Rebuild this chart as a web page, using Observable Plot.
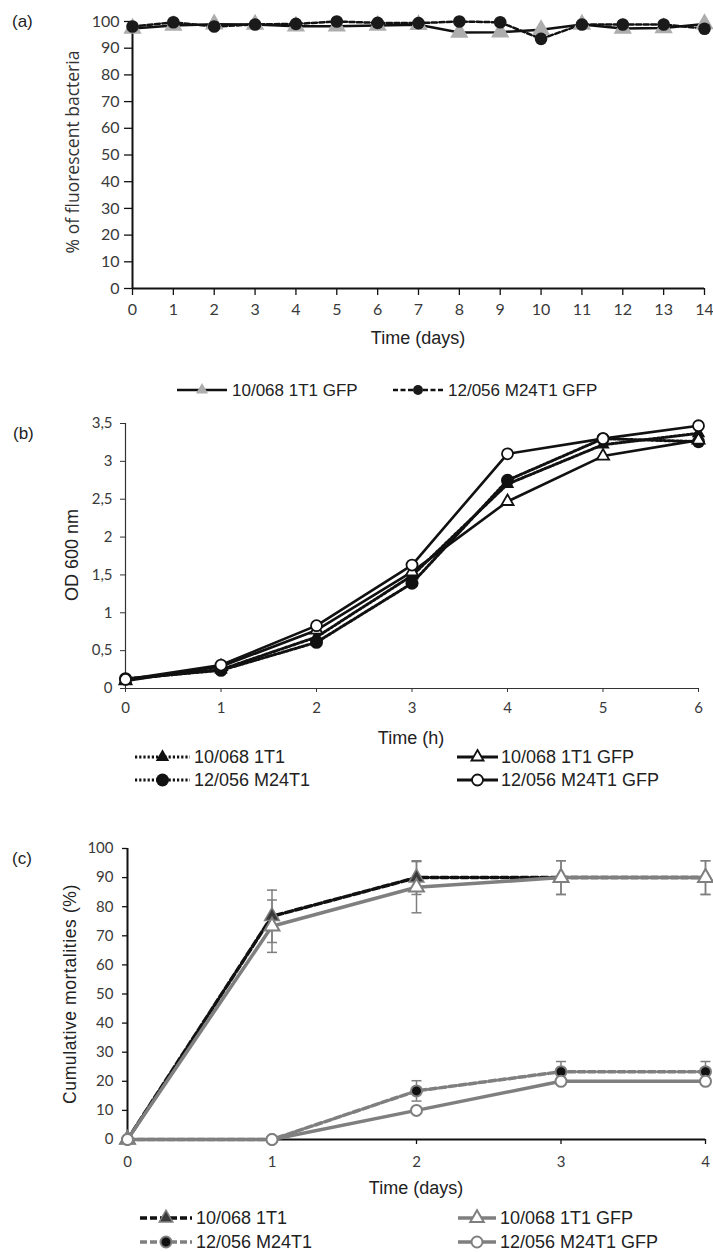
<!DOCTYPE html>
<html>
<head>
<meta charset="utf-8">
<script src="https://cdn.jsdelivr.net/npm/d3@7"></script>
<script src="https://cdn.jsdelivr.net/npm/@observablehq/plot@0.6"></script>
<style>
  body { margin: 0; background: #fff; }
  #root { position: relative; width: 713px; height: 1252px; overflow: hidden; background: #fff; }
  .plot { position: absolute; left: 0; }
  .plot svg { overflow: visible; display: block; }
  #overlay { position: absolute; left: 0; top: 0; pointer-events: none; }
</style>
</head>
<body>
<div id="root">
  <div class="plot" id="pa" style="top:0px"></div>
  <div class="plot" id="pb" style="top:400px"></div>
  <div class="plot" id="pc" style="top:820px"></div>
</div>
<script>
// ---------- Panel (a): % fluorescent bacteria over 14 days ----------
const daysA = [0, 1, 2, 3, 4, 5, 6, 7, 8, 9, 10, 11, 12, 13, 14];
const pctGfp1T1 = [97.4, 98.5, 99.0, 98.9, 98.2, 98.2, 98.5, 98.8, 95.9, 96.0, 96.9, 98.9, 97.4, 97.6, 99.1];
const pctGfpM24T1 = [98.1, 99.7, 98.1, 98.9, 99.1, 100, 99.5, 99.4, 100, 99.7, 93.5, 98.9, 98.9, 98.9, 97.3];
const ticksAY = [0, 10, 20, 30, 40, 50, 60, 70, 80, 90, 100];
const labelsA = ["10/068 1T1 GFP", "12/056 M24T1 GFP"];

// ---------- Panel (b): OD 600 nm over 6 h ----------
const hoursB = [0, 1, 2, 3, 4, 5, 6];
const od1T1 = [0.12, 0.25, 0.68, 1.49, 2.70, 3.22, 3.37];
const odM24T1 = [0.13, 0.24, 0.61, 1.39, 2.75, 3.30, 3.26];
const od1T1Gfp = [0.10, 0.29, 0.77, 1.54, 2.47, 3.07, 3.28];
const odM24T1Gfp = [0.12, 0.31, 0.83, 1.63, 3.10, 3.30, 3.47];
const ticksBY = [0, 0.5, 1, 1.5, 2, 2.5, 3, 3.5];
const labelsB = ["10/068 1T1", "12/056 M24T1", "10/068 1T1 GFP", "12/056 M24T1 GFP"];

// ---------- Panel (c): cumulative mortalities over 4 days ----------
const daysC = [0, 1, 2, 3, 4];
const mort1T1 = [0, 76.7, 90, 90, 90];
const sd1T1 = [0, 9.0, 5.8, 5.8, 5.8];
const mort1T1Gfp = [0, 73.3, 86.7, 90, 90];
const sd1T1Gfp = [0, 9.0, 8.8, 5.8, 5.8];
const mortM24T1 = [0, 0, 16.7, 23.3, 23.3];
const sdM24T1 = [0, 0, 3.5, 3.5, 3.5];
const mortM24T1Gfp = [0, 0, 10, 20, 20];
const sdM24T1Gfp = [0, 0, 0, 0, 0];
const ticksCY = [0, 10, 20, 30, 40, 50, 60, 70, 80, 90, 100];
const labelsC = ["10/068 1T1", "12/056 M24T1", "10/068 1T1 GFP", "12/056 M24T1 GFP"];

// ---------- helpers ----------
const rows = (xs, vs, sds) => xs.map((t, i) => ({t, v: vs[i], sd: sds ? sds[i] : 0}));
const commaFmt = d => String(d).replace(".", ",");
const capSymbol = {
  draw(ctx, size) {
    const w = Math.sqrt(size / Math.PI);
    ctx.moveTo(-w, 0); ctx.lineTo(w, 0);
  }
};
const GREY = "#7f7f7f";

// ---------- Plot (a) ----------
const a1 = rows(daysA, pctGfp1T1);
const a2 = rows(daysA, pctGfpM24T1);
const plotA = Plot.plot({
  width: 713, height: 350,
  marginTop: 21, marginBottom: 62, marginLeft: 132, marginRight: 9,
  x: {domain: [0, 14]},
  y: {domain: [0, 100]},
  style: {fontFamily: "Lato, 'Open Sans', sans-serif", fontSize: "16px", color: "#3a3a3a", background: "transparent", overflow: "visible"},
  marks: [
    Plot.axisY({ticks: ticksAY, tickSize: 8, tickPadding: 5, label: null, stroke: "#111", strokeWidth: 1.3}),
    Plot.axisX({ticks: daysA, tickSize: 7, tickPadding: 8, label: null, stroke: "#111", strokeWidth: 1.3, tickFormat: d => String(d)}),
    Plot.ruleX([0], {stroke: "#111", strokeWidth: 2}),
    Plot.ruleY([0], {stroke: "#111", strokeWidth: 2}),
    Plot.line(a1, {x: "t", y: "v", stroke: "#111", strokeWidth: 2.5}),
    Plot.line(a2, {x: "t", y: "v", stroke: "#111", strokeWidth: 2.5, strokeDasharray: "5,2.5"}),
    Plot.dot(a1, {x: "t", y: "v", symbol: "triangle", r: 6.8, fill: "#adadad"}),
    Plot.dot(a2, {x: "t", y: "v", symbol: "circle", r: 6.3, fill: "#1a1a1a"})
  ]
});
document.getElementById("pa").appendChild(plotA);

// ---------- Plot (b) ----------
const b1 = rows(hoursB, od1T1);
const b2 = rows(hoursB, odM24T1);
const b3 = rows(hoursB, od1T1Gfp);
const b4 = rows(hoursB, odM24T1Gfp);
const plotB = Plot.plot({
  width: 713, height: 360,
  marginTop: 23, marginBottom: 72, marginLeft: 125, marginRight: 15,
  x: {domain: [0, 6]},
  y: {domain: [0, 3.5]},
  style: {fontFamily: "Lato, 'Open Sans', sans-serif", fontSize: "15px", color: "#3a3a3a", background: "transparent", overflow: "visible"},
  marks: [
    Plot.axisY({ticks: ticksBY, tickSize: 5, tickPadding: 8, label: null, tickFormat: commaFmt, stroke: "#333", strokeWidth: 1}),
    Plot.axisX({ticks: hoursB, tickSize: 4, tickPadding: 10, label: null, tickFormat: d => String(d), stroke: "#333", strokeWidth: 1}),
    Plot.ruleX([0], {stroke: "#333", strokeWidth: 1.2}),
    Plot.ruleY([0], {stroke: "#333", strokeWidth: 1.2}),
    Plot.line(b1, {x: "t", y: "v", stroke: "#111", strokeWidth: 3, strokeDasharray: "2.2,2"}),
    Plot.line(b2, {x: "t", y: "v", stroke: "#111", strokeWidth: 3, strokeDasharray: "2.2,2"}),
    Plot.line(b3, {x: "t", y: "v", stroke: "#111", strokeWidth: 2.6}),
    Plot.line(b4, {x: "t", y: "v", stroke: "#111", strokeWidth: 2.6}),
    Plot.dot(b1, {x: "t", y: "v", symbol: "triangle", r: 5, fill: "#111"}),
    Plot.dot(b2, {x: "t", y: "v", symbol: "circle", r: 6.5, fill: "#111"}),
    Plot.dot(b3, {x: "t", y: "v", symbol: "triangle", r: 4.5, fill: "#fff", stroke: "#111", strokeWidth: 1.8}),
    Plot.dot(b4, {x: "t", y: "v", symbol: "circle", r: 5.5, fill: "#fff", stroke: "#111", strokeWidth: 1.8})
  ]
});
document.getElementById("pb").appendChild(plotB);

// ---------- Plot (c) ----------
const c1 = rows(daysC, mort1T1, sd1T1);
const c2 = rows(daysC, mortM24T1, sdM24T1);
const c3 = rows(daysC, mort1T1Gfp, sd1T1Gfp);
const c4 = rows(daysC, mortM24T1Gfp, sdM24T1Gfp);
const errC = [...c1, ...c2, ...c3, ...c4].filter(d => d.sd > 0);
const plotC = Plot.plot({
  width: 713, height: 380,
  marginTop: 28, marginBottom: 61, marginLeft: 127, marginRight: 8,
  x: {domain: [0, 4]},
  y: {domain: [0, 100]},
  style: {fontFamily: "Lato, 'Open Sans', sans-serif", fontSize: "15px", color: "#3a3a3a", background: "transparent", overflow: "visible"},
  marks: [
    Plot.axisY({ticks: ticksCY, tickSize: 5, tickPadding: 9, label: null, stroke: "#111", strokeWidth: 1.3}),
    Plot.axisX({ticks: daysC, tickSize: 5, tickPadding: 12, label: null, tickFormat: d => String(d), stroke: "#111", strokeWidth: 1.3}),
    Plot.ruleX([0], {stroke: "#111", strokeWidth: 2}),
    Plot.ruleY([0], {stroke: "#111", strokeWidth: 2}),
    Plot.ruleX(errC, {x: "t", y1: d => d.v - d.sd, y2: d => d.v + d.sd, stroke: GREY, strokeWidth: 1.5}),
    Plot.dot(errC, {x: "t", y: d => d.v - d.sd, symbol: capSymbol, r: 5, stroke: GREY, strokeWidth: 1.5}),
    Plot.dot(errC, {x: "t", y: d => d.v + d.sd, symbol: capSymbol, r: 5, stroke: GREY, strokeWidth: 1.5}),
    Plot.line(c1, {x: "t", y: "v", stroke: "#111", strokeWidth: 3.5, strokeDasharray: "7,3"}),
    Plot.line(c2, {x: "t", y: "v", stroke: GREY, strokeWidth: 3.5, strokeDasharray: "7,3"}),
    Plot.dot(c1, {x: "t", y: "v", symbol: "triangle", r: 5.5, fill: "#3a3a3a", stroke: GREY, strokeWidth: 1.5}),
    Plot.dot(c2, {x: "t", y: "v", symbol: "circle", r: 5.5, fill: "#111", stroke: GREY, strokeWidth: 2}),
    Plot.line(c3, {x: "t", y: "v", stroke: GREY, strokeWidth: 3.5}),
    Plot.line(c4, {x: "t", y: "v", stroke: GREY, strokeWidth: 3.5}),
    Plot.dot(c3, {x: "t", y: "v", symbol: "triangle", r: 5.5, fill: "#fff", stroke: GREY, strokeWidth: 2}),
    Plot.dot(c4, {x: "t", y: "v", symbol: "circle", r: 5.5, fill: "#fff", stroke: GREY, strokeWidth: 2})
  ]
});
document.getElementById("pc").appendChild(plotC);

// ---------- overlay: panel letters, axis titles, legends ----------
const ov = d3.select("#root").append("svg").attr("id", "overlay")
  .attr("width", 713).attr("height", 1252);

function txt(x, y, s, opts = {}) {
  const t = ov.append("text").attr("x", x).attr("y", y).text(s)
    .attr("dominant-baseline", "central")
    .attr("text-anchor", opts.anchor || "start")
    .attr("font-family", opts.family || "'Liberation Sans', Arial, sans-serif")
    .attr("font-size", opts.size || 17)
    .attr("fill", opts.fill || "#222");
  if (opts.rotate) t.attr("transform", `rotate(-90 ${x} ${y})`);
  if (opts.spacing) t.attr("letter-spacing", opts.spacing);
  return t;
}

// panel letters
txt(12, 21, "(a)", {size: 17});
txt(13, 433, "(b)", {size: 17});
txt(12, 858, "(c)", {size: 17});

// axis titles
txt(72, 152, "% of fluorescent bacteria", {anchor: "middle", rotate: true, size: 17.5, family: "'Open Sans', sans-serif", fill: "#333"});
txt(418, 338, "Time (days)", {anchor: "middle", size: 18, family: "'Liberation Sans Narrow', 'Liberation Sans', Arial, sans-serif"});
txt(72, 555, "OD 600 nm", {anchor: "middle", rotate: true, size: 18});
txt(411, 738, "Time (h)", {anchor: "middle", size: 18, family: "'Liberation Sans Narrow', 'Liberation Sans', Arial, sans-serif"});
txt(70, 994, "Cumulative mortalities (%)", {anchor: "middle", rotate: true, size: 17.5, spacing: 0.6});
txt(416, 1188, "Time (days)", {anchor: "middle", size: 18, family: "'Liberation Sans Narrow', 'Liberation Sans', Arial, sans-serif"});

// legend swatch
function swatch(x1, x2, y, line, mark) {
  ov.append("line").attr("x1", x1).attr("x2", x2).attr("y1", y).attr("y2", y)
    .attr("stroke", line.stroke).attr("stroke-width", line.width)
    .attr("stroke-dasharray", line.dash || null);
  const type = mark.symbol === "triangle" ? d3.symbolTriangle : d3.symbolCircle;
  ov.append("path")
    .attr("d", d3.symbol(type, Math.PI * mark.r * mark.r)())
    .attr("transform", `translate(${(x1 + x2) / 2},${y})`)
    .attr("fill", mark.fill).attr("stroke", mark.stroke || "none")
    .attr("stroke-width", mark.sw || 0);
}

// legend (a)
swatch(177, 227, 390, {stroke: "#111", width: 2.5}, {symbol: "triangle", r: 4.5, fill: "#adadad"});
txt(232, 390, labelsA[0], {size: 17});
swatch(393, 443, 390, {stroke: "#111", width: 2.5, dash: "5,2.5"}, {symbol: "circle", r: 5, fill: "#1a1a1a"});
txt(448, 390, labelsA[1], {size: 17});

// legend (b)
swatch(135, 190, 757, {stroke: "#111", width: 3, dash: "2.2,2"}, {symbol: "triangle", r: 5, fill: "#111"});
txt(194, 757, labelsB[0], {size: 18});
swatch(135, 190, 780, {stroke: "#111", width: 3, dash: "2.2,2"}, {symbol: "circle", r: 6.5, fill: "#111"});
txt(194, 780, labelsB[1], {size: 18});
swatch(457, 498, 757, {stroke: "#111", width: 3}, {symbol: "triangle", r: 4.5, fill: "#fff", stroke: "#111", sw: 1.8});
txt(501, 757, labelsB[2], {size: 18});
swatch(457, 498, 780, {stroke: "#111", width: 3}, {symbol: "circle", r: 5.5, fill: "#fff", stroke: "#111", sw: 1.8});
txt(501, 780, labelsB[3], {size: 18});

// legend (c)
swatch(140, 192, 1218, {stroke: "#111", width: 3.5, dash: "7,3"}, {symbol: "triangle", r: 5, fill: "#3a3a3a", stroke: GREY, sw: 1.5});
txt(196, 1218, labelsC[0], {size: 18});
swatch(140, 192, 1242, {stroke: GREY, width: 3.5, dash: "7,3"}, {symbol: "circle", r: 5.5, fill: "#111", stroke: GREY, sw: 2});
txt(196, 1242, labelsC[1], {size: 18});
swatch(458, 496, 1218, {stroke: GREY, width: 3.5}, {symbol: "triangle", r: 5, fill: "#fff", stroke: GREY, sw: 2});
txt(500, 1218, labelsC[2], {size: 18});
swatch(458, 496, 1242, {stroke: GREY, width: 3.5}, {symbol: "circle", r: 5.5, fill: "#fff", stroke: GREY, sw: 2});
txt(500, 1242, labelsC[3], {size: 18});
</script>
</body>
</html>
